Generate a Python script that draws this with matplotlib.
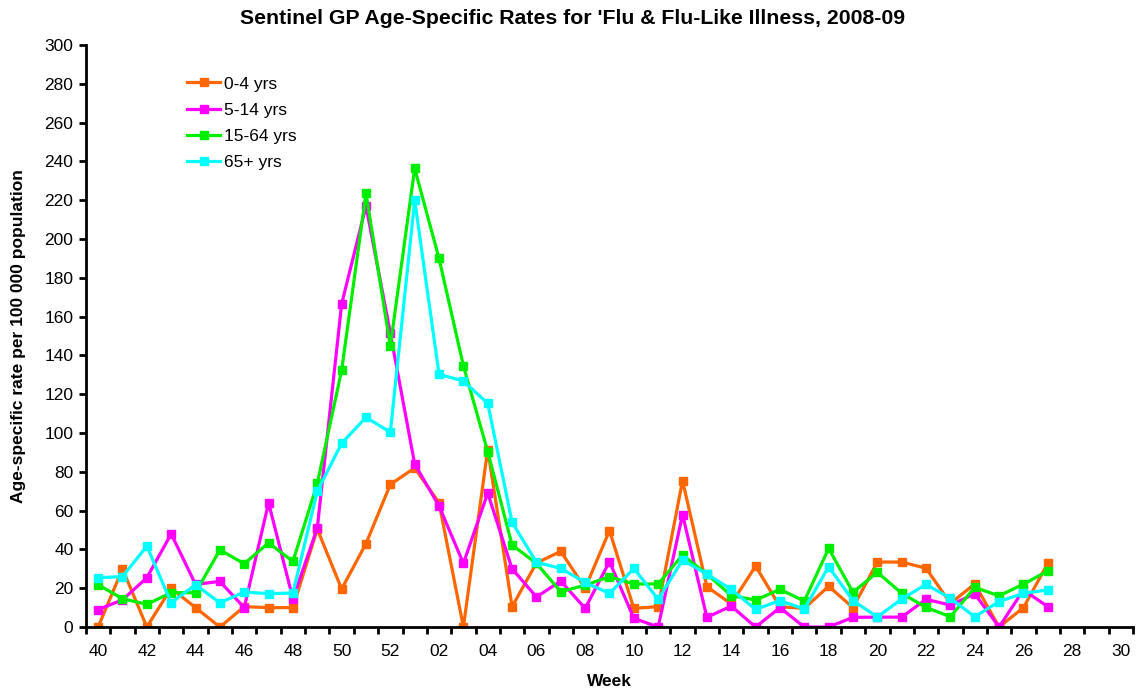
import numpy as np
import matplotlib
matplotlib.use("Agg")
import matplotlib.pyplot as plt

plt.rcParams['font.family'] = ['Liberation Sans', 'DejaVu Sans']

# weeks 40..52 then 01..30
weeks = [f"{w:02d}" for w in list(range(40, 53)) + list(range(1, 31))]

age_0_4 = [0, 30, 0, 20, 10, 0, 10.5, 10, 10, 50.5, 19.6, 43, 73.5, 82, 64, 0, 91.5, 10.5,
           33, 39, 20, 49.7, 9.6, 10.5, 75.4, 20.8, 11.9, 31.4, 10.5, 9.6, 21, 10,
           33.5, 33.5, 30.3, 12.2, 22.2, 0, 10, 32.8]
age_5_14 = [9, 14, 25.4, 48, 22, 23.5, 10, 64, 14.6, 51, 166.5, 217, 151.5, 84, 62.4, 32.8,
            69, 30, 15.5, 23.7, 9.6, 33.7, 4.5, 0, 58, 5, 10.8, 0, 10, 0, 0, 5,
            5.1, 5.1, 14.3, 11.3, 17.1, 0, 19.1, 10.5]
age_15_64 = [21.8, 14.6, 11.7, 17.7, 17.7, 39.8, 32.6, 43.4, 33.8, 74, 132.3, 223.5, 144.8,
             236.4, 190, 134.7, 90.4, 42.3, 32.8, 18.2, 21.6, 25.9, 22.2, 22.2, 37.1, 27.3,
             16.2, 13.9, 19.4, 13.4, 40.5, 17.9, 28.2, 17.4, 10.1, 5.3, 20.4, 16.1, 22.1, 28.9]
age_65 = [25.4, 26, 41.7, 12.5, 21.8, 12.5, 18, 17.2, 17.5, 70, 94.7, 108.1, 100.4, 220,
          130.3, 126.8, 115.3, 54, 33.4, 30.2, 23, 17.3, 30.2, 14.3, 34.5, 27.3, 19.4,
          9.1, 13.6, 9.3, 31.1, 13.6, 5.2, 14.4, 22, 14.8, 5.3, 13.1, 17.4, 19.1]

series = [("0-4 yrs", age_0_4, "#FF6600"),
          ("5-14 yrs", age_5_14, "#FF00FF"),
          ("15-64 yrs", age_15_64, "#00EE00"),
          ("65+ yrs", age_65, "#00FFFF")]

fig = plt.figure(figsize=(11.37, 6.93), dpi=100)
ax = fig.add_axes([0.0756, 0.0952, 0.9209, 0.8398])

for name, vals, col in series:
    x = np.arange(len(vals))
    ax.plot(x, vals, color=col, lw=2.3, marker='s', ms=5.2, label=name)

ax.set_xlim(-0.5, len(weeks) - 0.5)
ax.set_ylim(0, 300)
ax.set_yticks(np.arange(0, 301, 20))
ax.set_xticks(np.arange(0, len(weeks), 2))
ax.set_xticklabels(weeks[::2])
ax.set_xticks(np.arange(-0.5, len(weeks), 1), minor=True)
ax.tick_params(axis='x', which='major', length=0, labelsize=12.5, pad=12)
ax.tick_params(axis='x', which='minor', length=5, width=2, direction='out')
ax.tick_params(axis='y', length=5, width=2, labelsize=12.5, pad=4)

for s in ['top', 'right']:
    ax.spines[s].set_visible(False)
for s in ['left', 'bottom']:
    ax.spines[s].set_linewidth(2)

# title is centred on the whole figure in the original
fig.suptitle("Sentinel GP Age-Specific Rates for 'Flu & Flu-Like Illness, 2008-09",
             fontsize=15.3, fontweight='bold', x=0.504, y=0.974, va='center')
ax.set_xlabel("Week", fontsize=12.5, fontweight='bold', labelpad=11)
ax.set_ylabel("Age-specific rate per 100 000 population", fontsize=12.5, fontweight='bold', labelpad=13)

ax.legend(loc='upper left', bbox_to_anchor=(0.082, 0.973), frameon=False, fontsize=12.5,
          handlelength=1.9, labelspacing=0.64, handletextpad=0.2)

fig.savefig("out.png", dpi=100)
